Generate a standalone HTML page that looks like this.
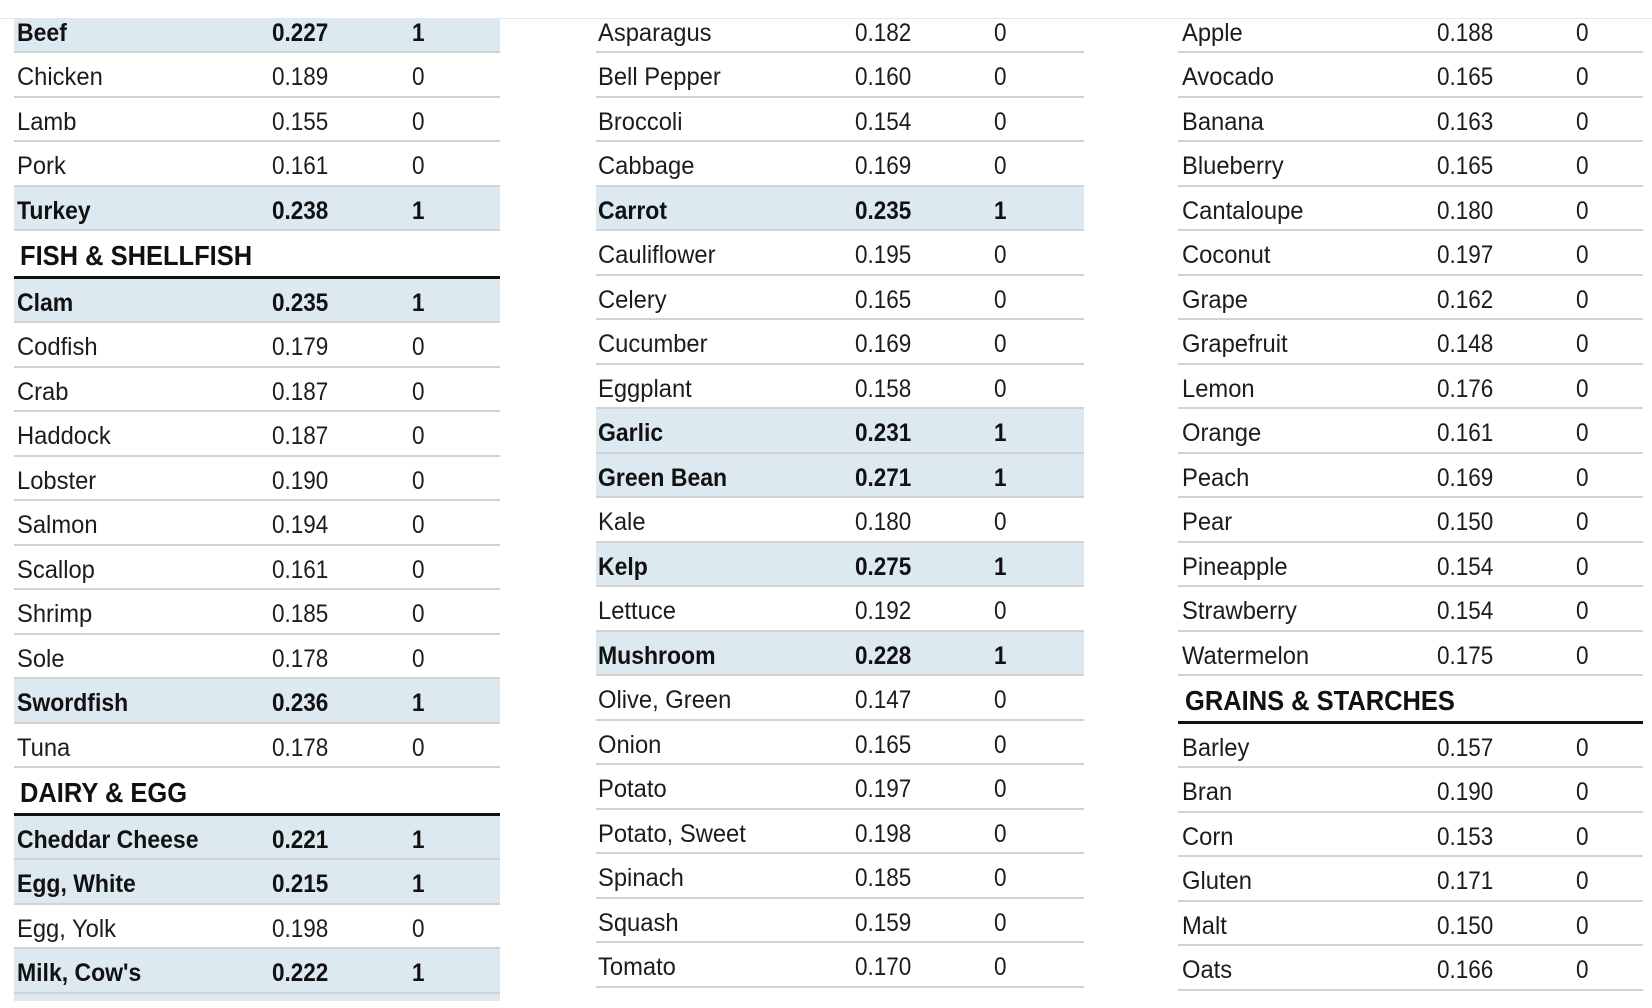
<!DOCTYPE html>
<html>
<head>
<meta charset="utf-8">
<style>
  html,body{margin:0;padding:0;background:#fff;}
  body{width:1652px;height:1008px;position:relative;overflow:hidden;font-family:"Liberation Sans",Arial,sans-serif;color:#1c1c1c;}
  .col{position:absolute;top:8.5px;}
  .r{position:relative;height:44.5px;box-sizing:border-box;border-bottom:2px solid #d2d2d2;}
  .r.b{background:#dde9f1;font-weight:bold;color:#111;}
  .r span{position:absolute;top:12px;line-height:25px;font-size:25px;transform:scaleX(.9);transform-origin:0 0;white-space:nowrap;}
  .r span.n{transform:scaleX(.95);}
  .r.b span.n{transform:scaleX(.92);}
  .n{left:3px;}
  .v{left:258.5px;}
  .f{left:398px;}
  .h{position:relative;height:47.5px;box-sizing:border-box;border-bottom:3px solid #111;}
  .h span{position:absolute;left:6.5px;top:11.3px;font-size:28px;line-height:28px;font-weight:bold;color:#111;transform:scaleX(.91);transform-origin:0 0;white-space:nowrap;}
  .top{position:absolute;left:0;top:0;width:1652px;height:18px;background:#fff;border-bottom:1px solid #e3e6ea;z-index:5;}
</style>
</head>
<body>
<div class="top"></div>

<div class="col" style="left:13.5px;width:486.5px;">
  <div class="r b"><span class="n">Beef</span><span class="v">0.227</span><span class="f">1</span></div>
  <div class="r"><span class="n">Chicken</span><span class="v">0.189</span><span class="f">0</span></div>
  <div class="r"><span class="n">Lamb</span><span class="v">0.155</span><span class="f">0</span></div>
  <div class="r"><span class="n">Pork</span><span class="v">0.161</span><span class="f">0</span></div>
  <div class="r b"><span class="n">Turkey</span><span class="v">0.238</span><span class="f">1</span></div>
  <div class="h"><span>FISH &amp; SHELLFISH</span></div>
  <div class="r b"><span class="n">Clam</span><span class="v">0.235</span><span class="f">1</span></div>
  <div class="r"><span class="n">Codfish</span><span class="v">0.179</span><span class="f">0</span></div>
  <div class="r"><span class="n">Crab</span><span class="v">0.187</span><span class="f">0</span></div>
  <div class="r"><span class="n">Haddock</span><span class="v">0.187</span><span class="f">0</span></div>
  <div class="r"><span class="n">Lobster</span><span class="v">0.190</span><span class="f">0</span></div>
  <div class="r"><span class="n">Salmon</span><span class="v">0.194</span><span class="f">0</span></div>
  <div class="r"><span class="n">Scallop</span><span class="v">0.161</span><span class="f">0</span></div>
  <div class="r"><span class="n">Shrimp</span><span class="v">0.185</span><span class="f">0</span></div>
  <div class="r"><span class="n">Sole</span><span class="v">0.178</span><span class="f">0</span></div>
  <div class="r b"><span class="n">Swordfish</span><span class="v">0.236</span><span class="f">1</span></div>
  <div class="r"><span class="n">Tuna</span><span class="v">0.178</span><span class="f">0</span></div>
  <div class="h"><span>DAIRY &amp; EGG</span></div>
  <div class="r b"><span class="n">Cheddar Cheese</span><span class="v">0.221</span><span class="f">1</span></div>
  <div class="r b"><span class="n">Egg, White</span><span class="v">0.215</span><span class="f">1</span></div>
  <div class="r"><span class="n">Egg, Yolk</span><span class="v">0.198</span><span class="f">0</span></div>
  <div class="r b"><span class="n">Milk, Cow's</span><span class="v">0.222</span><span class="f">1</span></div>
  <div style="height:7px;background:#dde9f1;"></div>
</div>

<div class="col" style="left:596px;width:488px;">
  <div class="r"><span class="n" style="left:1.5px">Asparagus</span><span class="v">0.182</span><span class="f">0</span></div>
  <div class="r"><span class="n" style="left:1.5px">Bell Pepper</span><span class="v">0.160</span><span class="f">0</span></div>
  <div class="r"><span class="n" style="left:1.5px">Broccoli</span><span class="v">0.154</span><span class="f">0</span></div>
  <div class="r"><span class="n" style="left:1.5px">Cabbage</span><span class="v">0.169</span><span class="f">0</span></div>
  <div class="r b"><span class="n" style="left:1.5px">Carrot</span><span class="v">0.235</span><span class="f">1</span></div>
  <div class="r"><span class="n" style="left:1.5px">Cauliflower</span><span class="v">0.195</span><span class="f">0</span></div>
  <div class="r"><span class="n" style="left:1.5px">Celery</span><span class="v">0.165</span><span class="f">0</span></div>
  <div class="r"><span class="n" style="left:1.5px">Cucumber</span><span class="v">0.169</span><span class="f">0</span></div>
  <div class="r"><span class="n" style="left:1.5px">Eggplant</span><span class="v">0.158</span><span class="f">0</span></div>
  <div class="r b"><span class="n" style="left:1.5px">Garlic</span><span class="v">0.231</span><span class="f">1</span></div>
  <div class="r b"><span class="n" style="left:1.5px">Green Bean</span><span class="v">0.271</span><span class="f">1</span></div>
  <div class="r"><span class="n" style="left:1.5px">Kale</span><span class="v">0.180</span><span class="f">0</span></div>
  <div class="r b"><span class="n" style="left:1.5px">Kelp</span><span class="v">0.275</span><span class="f">1</span></div>
  <div class="r"><span class="n" style="left:1.5px">Lettuce</span><span class="v">0.192</span><span class="f">0</span></div>
  <div class="r b"><span class="n" style="left:1.5px">Mushroom</span><span class="v">0.228</span><span class="f">1</span></div>
  <div class="r"><span class="n" style="left:1.5px">Olive, Green</span><span class="v">0.147</span><span class="f">0</span></div>
  <div class="r"><span class="n" style="left:1.5px">Onion</span><span class="v">0.165</span><span class="f">0</span></div>
  <div class="r"><span class="n" style="left:1.5px">Potato</span><span class="v">0.197</span><span class="f">0</span></div>
  <div class="r"><span class="n" style="left:1.5px">Potato, Sweet</span><span class="v">0.198</span><span class="f">0</span></div>
  <div class="r"><span class="n" style="left:1.5px">Spinach</span><span class="v">0.185</span><span class="f">0</span></div>
  <div class="r"><span class="n" style="left:1.5px">Squash</span><span class="v">0.159</span><span class="f">0</span></div>
  <div class="r"><span class="n" style="left:1.5px">Tomato</span><span class="v">0.170</span><span class="f">0</span></div>
</div>

<div class="col" style="left:1178.3px;width:464.4px;">
  <div class="r"><span class="n" style="left:4px">Apple</span><span class="v">0.188</span><span class="f">0</span></div>
  <div class="r"><span class="n" style="left:4px">Avocado</span><span class="v">0.165</span><span class="f">0</span></div>
  <div class="r"><span class="n" style="left:4px">Banana</span><span class="v">0.163</span><span class="f">0</span></div>
  <div class="r"><span class="n" style="left:4px">Blueberry</span><span class="v">0.165</span><span class="f">0</span></div>
  <div class="r"><span class="n" style="left:4px">Cantaloupe</span><span class="v">0.180</span><span class="f">0</span></div>
  <div class="r"><span class="n" style="left:4px">Coconut</span><span class="v">0.197</span><span class="f">0</span></div>
  <div class="r"><span class="n" style="left:4px">Grape</span><span class="v">0.162</span><span class="f">0</span></div>
  <div class="r"><span class="n" style="left:4px">Grapefruit</span><span class="v">0.148</span><span class="f">0</span></div>
  <div class="r"><span class="n" style="left:4px">Lemon</span><span class="v">0.176</span><span class="f">0</span></div>
  <div class="r"><span class="n" style="left:4px">Orange</span><span class="v">0.161</span><span class="f">0</span></div>
  <div class="r"><span class="n" style="left:4px">Peach</span><span class="v">0.169</span><span class="f">0</span></div>
  <div class="r"><span class="n" style="left:4px">Pear</span><span class="v">0.150</span><span class="f">0</span></div>
  <div class="r"><span class="n" style="left:4px">Pineapple</span><span class="v">0.154</span><span class="f">0</span></div>
  <div class="r"><span class="n" style="left:4px">Strawberry</span><span class="v">0.154</span><span class="f">0</span></div>
  <div class="r"><span class="n" style="left:4px">Watermelon</span><span class="v">0.175</span><span class="f">0</span></div>
  <div class="h"><span>GRAINS &amp; STARCHES</span></div>
  <div class="r"><span class="n" style="left:4px">Barley</span><span class="v">0.157</span><span class="f">0</span></div>
  <div class="r"><span class="n" style="left:4px">Bran</span><span class="v">0.190</span><span class="f">0</span></div>
  <div class="r"><span class="n" style="left:4px">Corn</span><span class="v">0.153</span><span class="f">0</span></div>
  <div class="r"><span class="n" style="left:4px">Gluten</span><span class="v">0.171</span><span class="f">0</span></div>
  <div class="r"><span class="n" style="left:4px">Malt</span><span class="v">0.150</span><span class="f">0</span></div>
  <div class="r"><span class="n" style="left:4px">Oats</span><span class="v">0.166</span><span class="f">0</span></div>
</div>
</body>
</html>
